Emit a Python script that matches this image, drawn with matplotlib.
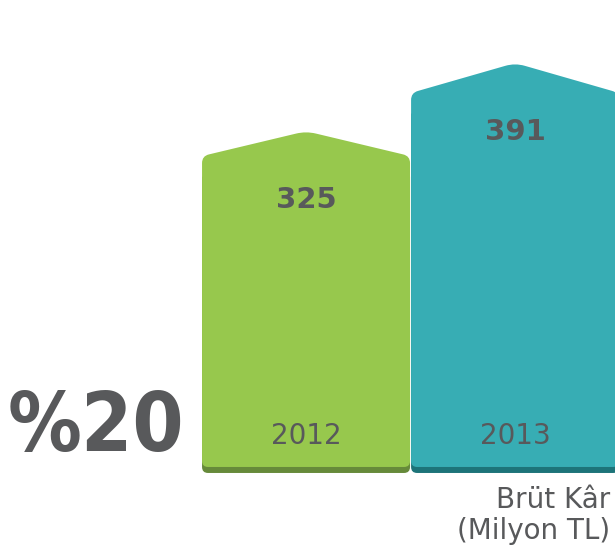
import matplotlib
matplotlib.use("Agg")
import matplotlib.pyplot as plt
import numpy as np
from matplotlib.path import Path
from matplotlib.patches import PathPatch

years = ["2012", "2013"]
values = [325, 391]
face_colors = ["#97c84d", "#37adb4"]
shadow_colors = ["#668a3a", "#1d7479"]
text_color = "#58595b"
big_label = "%20"
caption_lines = ["Brüt Kâr", "(Milyon TL)"]

fig = plt.figure(figsize=(6.15, 5.52), dpi=100)
ax = fig.add_axes([0, 0, 1, 1])
ax.set_xlim(-1.464, 1.478)
ax.set_ylim(-82.3, 452.0)
ax.axis("off")

# pixel scale per data unit (for rounding corners)
sx = 615 / (1.478 + 1.464)
sy = 552 / (452.0 + 82.3)


def rounded_path(pts, radii):
    """pts in data coords (closed polygon), radii in pixels for each vertex."""
    P = np.array([[x * sx, y * sy] for x, y in pts])
    n = len(P)
    verts, codes = [], []
    for i in range(n):
        V = P[i]
        A = P[i - 1]
        B = P[(i + 1) % n]
        r = radii[i]
        ua = (A - V) / np.linalg.norm(A - V)
        ub = (B - V) / np.linalg.norm(B - V)
        p1 = V + ua * r
        p2 = V + ub * r
        verts.append(p1); codes.append(Path.MOVETO if i == 0 else Path.LINETO)
        verts.append(V); codes.append(Path.CURVE3)
        verts.append(p2); codes.append(Path.CURVE3)
    verts.append(verts[0]); codes.append(Path.CLOSEPOLY)
    verts = np.array(verts)
    verts[:, 0] /= sx
    verts[:, 1] /= sy
    return Path(verts, codes)


width = 0.995
shadow_off = 6 / sy
for i, (v, fc, sc) in enumerate(zip(values, face_colors, shadow_colors)):
    x0, x1 = i - width / 2, i + width / 2
    shoulder = v * 0.926
    sh = rounded_path([(x0, -shadow_off), (x1, -shadow_off), (x1, shoulder - 20), (x0, shoulder - 20)],
                      [6, 6, 0.1, 0.1])
    ax.add_patch(PathPatch(sh, facecolor=sc, edgecolor="none", zorder=1))
    house = rounded_path([(x0, 0), (x1, 0), (x1, shoulder), (i, v), (x0, shoulder)],
                         [6, 6, 7, 10, 7])
    ax.add_patch(PathPatch(house, facecolor=fc, edgecolor="none", zorder=2))
    ax.text(i, v - 74.5, str(v), ha="center", va="baseline", fontsize=21,
            fontweight="bold", color=text_color, zorder=3)
    ax.text(i, 22.3, years[i], ha="center", va="baseline", fontsize=20,
            color=text_color, zorder=3)

ax.text(-1.428, 15.5, big_label, ha="left", va="baseline", fontsize=59,
        fontweight="bold", fontstretch="condensed", family="DejaVu Sans",
        color=text_color)
ax.text(1.455, -39.7, caption_lines[0], ha="right", va="baseline", fontsize=20,
        color=text_color)
ax.text(1.455, -69.7, caption_lines[1], ha="right", va="baseline", fontsize=20,
        color=text_color)

fig.savefig("out.png", dpi=100)
